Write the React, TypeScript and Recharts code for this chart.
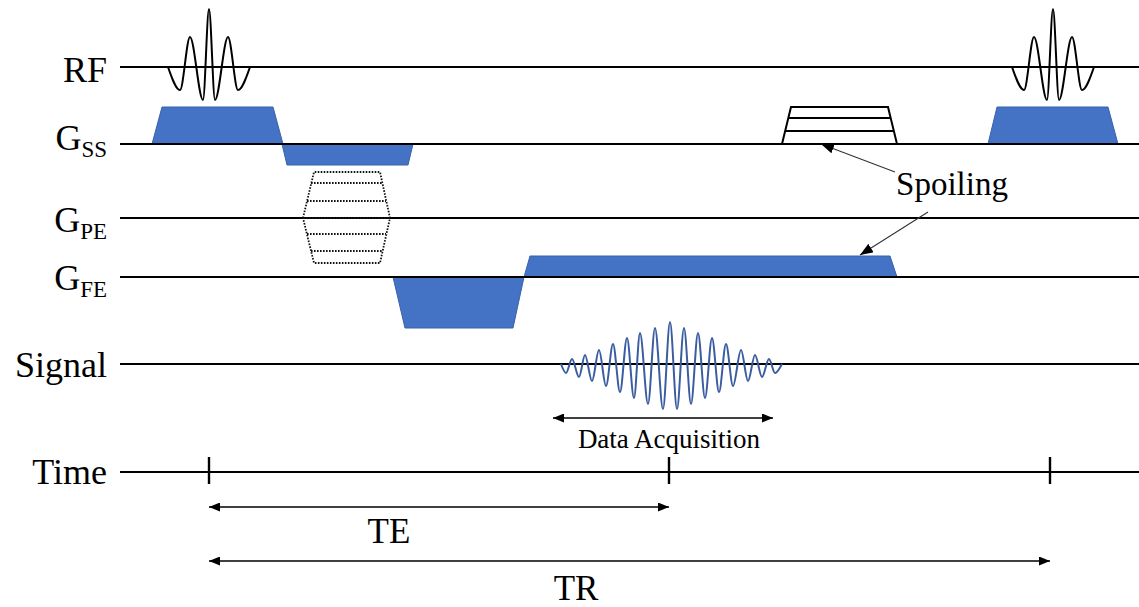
import { ComposedChart, Line, Area, XAxis, YAxis, ReferenceDot } from 'recharts';

const W = 1139;
const H = 607;
const SERIF = '"Liberation Serif", "Times New Roman", serif';
const BLUE = '#4472C4';
const BLUE_EDGE = '#3A62AA';
const SIGNAL_BLUE = '#3A5DA0';

// row baselines (px from top) – the chart y axis maps 1:1 to the page
const ROW_Y = { rf: 67, gss: 144, gpe: 218, gfe: 277, sig: 364, time: 472 };
const LINE_START = 120;

// row labels
const ROW_NAMES = ['RF', 'G', 'G', 'G', 'Signal', 'Time'];
const ROW_SUBS = ['', 'SS', 'PE', 'FE', '', ''];
const ROW_LABEL_Y = [82, 150, 232, 290, 377, 484];

// RF sinc pulse, offset from pulse centre / amplitude
const RF_OFFSET = [-41, -29, -19, -6, 0, 6, 19, 29, 41];
const RF_AMP = [0, -23, 30, -33, 58, -33, 30, -23, 0];
const RF_CENTRES = [209, 1053];

// slice select
const GSS_SLICE_T = [152, 162, 273, 283];
const GSS_SLICE2_T = [988, 997, 1108, 1118];
const GSS_SLICE_A = [0, 37, 37, 0];
const GSS_REPHASE_T = [282, 287, 408, 413];
const GSS_REPHASE_A = [0, -21, -21, 0];
const SPOIL_T = [782, 791, 888, 897];
const SPOIL_A = [0, 37, 37, 0];
const SPOIL_STEP_A = [13, 26];
const SPOIL_STEP_T = [[785, 894], [788, 891]];

// phase encode table
const GPE_T = [303, 314, 380, 390, 380, 314, 303];
const GPE_A = [0, 46, 46, 0, -45, -45, 0];
const GPE_STEP_A = [35, 17, 0, -16, -33];
const GPE_STEP_T = [[311, 382], [307, 386], [303, 390], [307, 386], [311, 383]];

// frequency encode
const GFE_PRE_T = [393, 405, 513, 524];
const GFE_PRE_A = [0, -51, -51, 0];
const GFE_READ_T = [524, 530, 890, 897];
const GFE_READ_A = [0, 21, 21, 0];

// echo signal, extremes
const SIGNAL_T = [561, 566, 572, 579, 585, 592, 599, 606, 613, 620, 627, 634, 640, 648, 655, 663, 670,
  677, 684, 691, 698, 705, 712, 719, 726, 733, 741, 748, 755, 762, 769, 775, 782];
const SIGNAL_A = [0, -9, 5, -13, 9, -17, 14, -22, 20, -28, 26, -34, 31, -40, 36, -45, 42,
  -45, 36, -40, 31, -34, 26, -28, 20, -22, 14, -17, 9, -13, 5, -9, 0];

// timing
const TIME_MARKS = [209, 669, 1050];
const TE_SPAN = [209, 669];
const TR_SPAN = [209, 1050];
const ACQ_SPAN = [553, 773];

const pts = (t: number[], a: number[], base: number) => t.map((x, i) => ({ x, y: base - a[i] }));
const seg = (x0: number, y0: number, x1: number, y1: number) => [{ x: x0, y: y0 }, { x: x1, y: y1 }];

const textShape = (content: any, anchor: string, size: number) => (p: any) => (
  <text x={p.cx} y={p.cy} textAnchor={anchor} fontFamily={SERIF} fontSize={size} fill="#000">
    {content}
  </text>
);

const lineProps = { dataKey: 'y', type: 'linear' as const, dot: false, activeDot: false, isAnimationActive: false };

export default function App() {
  const baselines = [ROW_Y.rf, ROW_Y.gss, ROW_Y.gpe, ROW_Y.gfe, ROW_Y.sig, ROW_Y.time];

  const lobes = [
    pts(GSS_SLICE_T, GSS_SLICE_A, ROW_Y.gss),
    pts(GSS_SLICE2_T, GSS_SLICE_A, ROW_Y.gss),
    pts(GSS_REPHASE_T, GSS_REPHASE_A, ROW_Y.gss),
    pts(GFE_PRE_T, GFE_PRE_A, ROW_Y.gfe),
    pts(GFE_READ_T, GFE_READ_A, ROW_Y.gfe),
  ];
  const lobeBase = [ROW_Y.gss, ROW_Y.gss, ROW_Y.gss, ROW_Y.gfe, ROW_Y.gfe];

  return (
    <div style={{ position: 'absolute', left: 0, top: 0, background: '#fff' }}>
      <ComposedChart width={W} height={H} margin={{ top: 0, right: 0, bottom: 0, left: 0 }}>
        <defs>
          <marker id="head" markerUnits="userSpaceOnUse" markerWidth={11} markerHeight={9}
            refX={11} refY={4.5} orient="auto-start-reverse">
            <path d="M0,0 L11,4.5 L0,9 z" fill="#000" />
          </marker>
          <marker id="headGrey" markerUnits="userSpaceOnUse" markerWidth={13} markerHeight={10}
            refX={13} refY={5} orient="auto">
            <path d="M0,0 L13,5 L0,10 z" fill="#000" />
          </marker>
        </defs>
        <XAxis dataKey="x" type="number" domain={[0, W]} allowDataOverflow hide />
        <YAxis type="number" domain={[0, H]} reversed allowDataOverflow hide />

        {lobes.map((d, i) => (
          <Area key={`lobe${i}`} data={d} dataKey="y" type="linear" baseValue={lobeBase[i]}
            fill={BLUE} fillOpacity={1} stroke={BLUE_EDGE} strokeWidth={1}
            dot={false} activeDot={false} isAnimationActive={false} />
        ))}

        {baselines.map((b, i) => (
          <Line key={`base${i}`} {...lineProps} data={seg(LINE_START, b, W, b)} stroke="#000" strokeWidth={1.8} />
        ))}

        {TIME_MARKS.map((t, i) => (
          <Line key={`tick${i}`} {...lineProps} data={seg(t, ROW_Y.time - 15, t, ROW_Y.time + 12)}
            stroke="#000" strokeWidth={2.4} />
        ))}

        {RF_CENTRES.map((c, i) => (
          <Line key={`rf${i}`} {...lineProps} type="monotone"
            data={pts(RF_OFFSET.map((o) => c + o), RF_AMP, ROW_Y.rf)} stroke="#000" strokeWidth={2} />
        ))}

        <Line {...lineProps} data={pts(SPOIL_T, SPOIL_A, ROW_Y.gss)} stroke="#000" strokeWidth={2} />
        {SPOIL_STEP_A.map((a, i) => (
          <Line key={`sp${i}`} {...lineProps}
            data={seg(SPOIL_STEP_T[i][0], ROW_Y.gss - a, SPOIL_STEP_T[i][1], ROW_Y.gss - a)}
            stroke="#000" strokeWidth={2} />
        ))}

        <Line {...lineProps} data={pts(GPE_T, GPE_A, ROW_Y.gpe)} stroke="#111" strokeWidth={1.8}
          strokeDasharray="1.6 1.4" />
        {GPE_STEP_A.map((a, i) => (
          <Line key={`pe${i}`} {...lineProps}
            data={seg(GPE_STEP_T[i][0], ROW_Y.gpe - a, GPE_STEP_T[i][1], ROW_Y.gpe - a)}
            stroke="#111" strokeWidth={1.8} strokeDasharray="1.6 1.4" />
        ))}

        <Line {...lineProps} type="monotone" data={pts(SIGNAL_T, SIGNAL_A, ROW_Y.sig)}
          stroke={SIGNAL_BLUE} strokeWidth={2} />

        {/* timing arrows */}
        <Line {...lineProps} data={seg(ACQ_SPAN[0], 418, ACQ_SPAN[1], 418)} stroke="#000" strokeWidth={1.4}
          markerStart="url(#head)" markerEnd="url(#head)" />
        <Line {...lineProps} data={seg(TE_SPAN[0], 507, TE_SPAN[1], 507)} stroke="#000" strokeWidth={1.4}
          markerStart="url(#head)" markerEnd="url(#head)" />
        <Line {...lineProps} data={seg(TR_SPAN[0], 561, TR_SPAN[1], 561)} stroke="#000" strokeWidth={1.4}
          markerStart="url(#head)" markerEnd="url(#head)" />

        {/* spoiling pointers */}
        <Line {...lineProps} data={seg(895, 172, 821, 144)} stroke="#333" strokeWidth={1.1} markerEnd="url(#headGrey)" />
        <Line {...lineProps} data={seg(928, 212, 860, 255)} stroke="#333" strokeWidth={1.1} markerEnd="url(#headGrey)" />

        {/* labels */}
        {ROW_NAMES.map((n, i) => (
          <ReferenceDot key={`lbl${i}`} x={107} y={ROW_LABEL_Y[i]} r={0}
            shape={textShape(
              ROW_SUBS[i] ? (
                <>
                  <tspan>{n}</tspan>
                  <tspan dy={7} fontSize={23}>{ROW_SUBS[i]}</tspan>
                </>
              ) : n,
              'end', 36)} />
        ))}
        <ReferenceDot x={952} y={195} r={0} shape={textShape('Spoiling', 'middle', 33)} />
        <ReferenceDot x={669} y={448} r={0} shape={textShape('Data Acquisition', 'middle', 27)} />
        <ReferenceDot x={389} y={543} r={0} shape={textShape('TE', 'middle', 35)} />
        <ReferenceDot x={576} y={600} r={0} shape={textShape('TR', 'middle', 35)} />
      </ComposedChart>
    </div>
  );
}
